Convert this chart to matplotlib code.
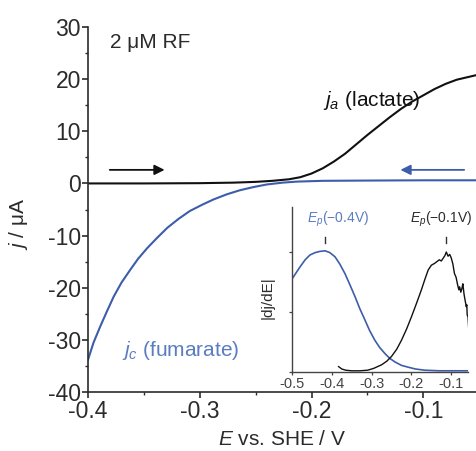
import matplotlib
matplotlib.use('Agg')
import matplotlib.pyplot as plt
from matplotlib.ticker import MultipleLocator

plt.rcParams['font.family'] = ['Liberation Sans', 'DejaVu Sans']
plt.rcParams['mathtext.fontset'] = 'custom'
plt.rcParams['mathtext.rm'] = 'Liberation Sans'
plt.rcParams['mathtext.it'] = 'Liberation Sans:italic'

# main CV: anodic (lactate) and cathodic (fumarate) currents, uA vs V
E_a = [-0.4, -0.35, -0.3, -0.27, -0.25, -0.235, -0.22, -0.21, -0.2, -0.19, -0.18,
       -0.17, -0.16, -0.15, -0.14, -0.13, -0.12, -0.11, -0.10, -0.09, -0.08, -0.07,
       -0.06, -0.052]
j_a = [0.0, 0.0, 0.05, 0.15, 0.3, 0.5, 0.8, 1.2, 1.9, 2.9, 4.2,
       5.7, 7.5, 9.3, 11.0, 12.7, 14.3, 15.7, 16.9, 18.1, 19.1, 19.9,
       20.4, 20.8]

E_c = [-0.4, -0.395, -0.389, -0.383, -0.377, -0.37, -0.362, -0.355, -0.347, -0.338,
       -0.329, -0.319, -0.309, -0.298, -0.288, -0.276, -0.264, -0.252, -0.24, -0.226,
       -0.213, -0.19, -0.15, -0.10, -0.052]
j_c = [-33.8, -30.5, -27.4, -24.5, -21.7, -19.0, -16.5, -14.4, -12.4, -10.4,
       -8.5, -6.8, -5.3, -4.1, -3.1, -2.1, -1.3, -0.7, -0.2, 0.15,
       0.35, 0.5, 0.55, 0.6, 0.6]

# inset: |dj/dE| (arbitrary units)
Ei_c = [-0.5, -0.48, -0.467, -0.455, -0.442, -0.43, -0.417, -0.405, -0.392, -0.38,
        -0.367, -0.355, -0.342, -0.33, -0.317, -0.305, -0.292, -0.28, -0.267, -0.255,
        -0.242, -0.225, -0.208, -0.19, -0.167, -0.13, -0.09, -0.058]
di_c = [1.55, 1.75, 1.87, 1.95, 1.99, 2.01, 2.02, 1.99, 1.92, 1.80,
        1.64, 1.46, 1.26, 1.06, 0.87, 0.69, 0.53, 0.41, 0.31, 0.23,
        0.17, 0.11, 0.08, 0.05, 0.03, 0.02, 0.02, 0.02]

Ei_a = [-0.383, -0.375, -0.365, -0.35, -0.33, -0.31, -0.295, -0.285, -0.275, -0.262,
        -0.25, -0.237, -0.225, -0.212, -0.2, -0.187, -0.175, -0.166, -0.158, -0.15,
        -0.142, -0.136, -0.13, -0.125, -0.12, -0.116, -0.1125, -0.108, -0.104, -0.1,
        -0.096, -0.092, -0.088, -0.084, -0.081, -0.079, -0.076, -0.073, -0.071, -0.068,
        -0.066, -0.064, -0.0625, -0.061, -0.06, -0.058, -0.056, -0.054]
di_a = [0.09, 0.05, 0.03, 0.02, 0.02, 0.03, 0.06, 0.09, 0.12, 0.18,
        0.26, 0.38, 0.53, 0.72, 0.92, 1.15, 1.37, 1.55, 1.70, 1.78,
        1.81, 1.84, 1.87, 1.85, 1.90, 1.94, 2.00, 1.93, 1.96, 1.90,
        1.80, 1.64, 1.58, 1.45, 1.37, 1.42, 1.33, 1.40, 1.47, 1.30,
        1.22, 1.15, 1.09, 1.12, 0.95, 0.92, 0.70, 0.42]

peaks = [-0.4175, -0.1125]
peak_labels = [r'$E_p$(−0.4V)', r'$E_p$(−0.1V)']
label_x = [-0.385, -0.125]

BLUE = '#3d5dab'
BLUE_TXT = '#5a7cc0'
INK = '#2b2b2b'

fig = plt.figure(figsize=(4.77, 4.51), dpi=100)
ax = fig.add_axes([88/477, 59/451, 389/477, 365/451])

ax.plot(E_a, j_a, color='#111111', lw=1.5)
ax.plot(E_c, j_c, color=BLUE, lw=1.5)

ax.set_xlim(-0.4, -0.052)
ax.set_ylim(-40, 30)
ax.xaxis.set_major_locator(MultipleLocator(0.1))
ax.xaxis.set_minor_locator(MultipleLocator(0.05))
ax.yaxis.set_major_locator(MultipleLocator(10))
ax.yaxis.set_minor_locator(MultipleLocator(5))
ax.set_xticks([-0.4, -0.3, -0.2, -0.1])
ax.set_xticklabels(['-0.4', '-0.3', '-0.2', '-0.1'])
ax.set_yticklabels([f'{int(v)}' for v in ax.get_yticks()])
for s in ['top', 'right']:
    ax.spines[s].set_visible(False)
for s in ['left', 'bottom']:
    ax.spines[s].set_linewidth(1.2)
    ax.spines[s].set_color(INK)
ax.tick_params(which='major', length=4, width=1.2, labelsize=16.5, colors=INK, pad=1)
ax.tick_params(axis='x', which='major', pad=2)
ax.tick_params(which='minor', length=2.5, width=1.0, colors=INK)

ax.set_xlabel(r'$E$ vs. SHE / V', fontsize=15, color=INK, labelpad=5)
ax.set_ylabel(r'$j$ / μA', fontsize=15, color=INK)
ax.yaxis.set_label_coords(-0.15, 0.46)

ax.text(-0.380, 27, '2 μM RF', fontsize=15, color=INK, va='center')
ax.text(-0.190, 16, r'$j_a$ (lactate)', fontsize=15, color='#111111', va='center')
ax.text(-0.370, -32, r'$j_c$ (fumarate)', fontsize=15, color=BLUE_TXT, va='center')

ax.annotate('', xy=(-0.329, 2.6), xytext=(-0.383, 2.6),
            arrowprops=dict(arrowstyle='-|>', color='#111111', lw=1.3, mutation_scale=15))
ax.annotate('', xy=(-0.123, 2.6), xytext=(-0.061, 2.6),
            arrowprops=dict(arrowstyle='-|>', color=BLUE, lw=1.3, mutation_scale=15))

# inset
ins = fig.add_axes([292/477, 79/451, 176/477, 165/451])
ins.patch.set_alpha(0)
ins.plot(Ei_c, di_c, color=BLUE, lw=1.2)
ins.plot(Ei_a, di_a, color='#111111', lw=1.0)
ins.set_xlim(-0.5, -0.058)
ins.set_ylim(0, 2.75)
ins.set_xticks([-0.5, -0.4, -0.3, -0.2, -0.1])
ins.set_xticklabels(['-0.5', '-0.4', '-0.3', '-0.2', '-0.1'])
ins.set_yticks([0, 1, 2])
ins.set_yticklabels([])
for s in ['top', 'right']:
    ins.spines[s].set_visible(False)
for s in ['left', 'bottom']:
    ins.spines[s].set_linewidth(1.0)
    ins.spines[s].set_color('#444444')
ins.tick_params(length=2.5, width=0.9, labelsize=10.5, colors='#444444', pad=1)
ins.set_ylabel('|dj/dE|', fontsize=11, color=INK)
ins.yaxis.set_label_coords(-0.1, 0.45)

for xp, lx, lab, col in zip(peaks, label_x, peak_labels, [BLUE_TXT, INK]):
    ins.plot([xp, xp], [2.15, 2.25], color='#333333', lw=1.0)
    ins.text(lx, 2.55, lab, fontsize=10, color=col, ha='center', va='center')

fig.savefig('out.png', dpi=100, facecolor='white')
